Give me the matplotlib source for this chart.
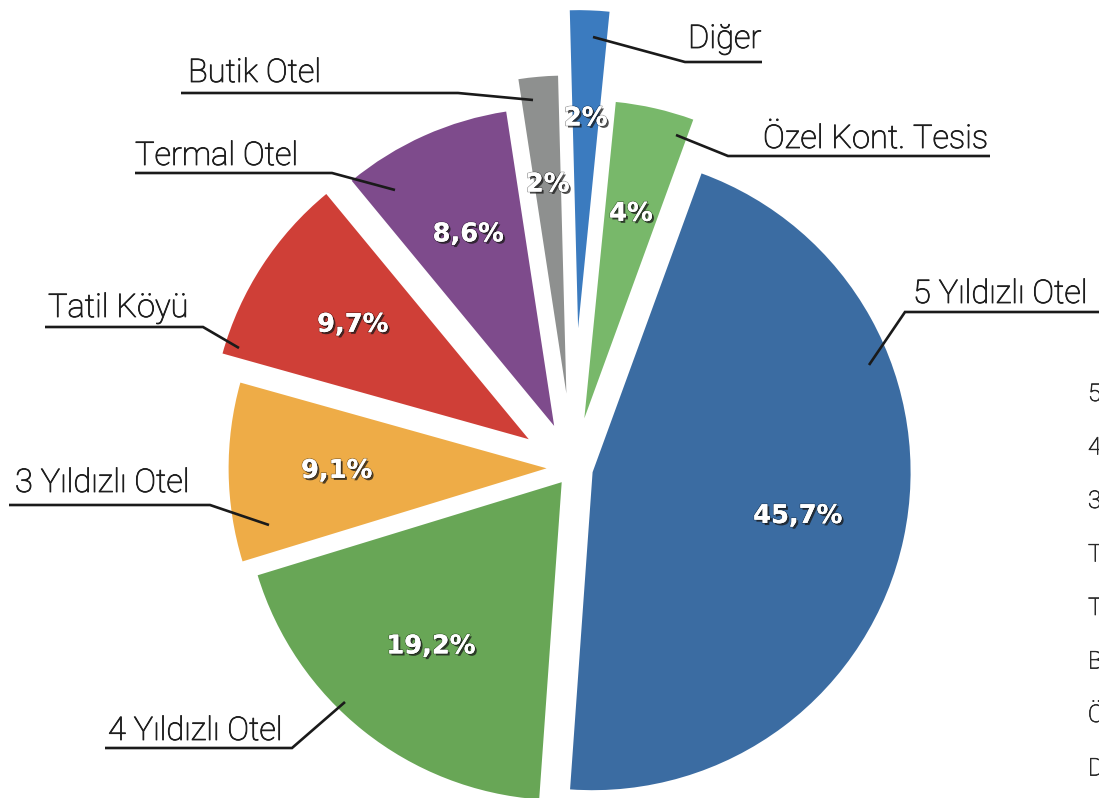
import matplotlib
matplotlib.use("Agg")
import matplotlib.pyplot as plt
import matplotlib.patheffects as pe

# ---------------- data (clockwise from top) ----------------
categories = ["Diğer", "Özel Kont. Tesis", "5 Yıldızlı Otel", "4 Yıldızlı Otel",
              "3 Yıldızlı Otel", "Tatil Köyü", "Termal Otel", "Butik Otel"]
values = [2, 4, 45.7, 19.2, 9.1, 9.7, 8.6, 2]
legend_order = ["5 Yıldızlı Otel", "4 Yıldızlı Otel", "3 Yıldızlı Otel", "Tatil Köyü",
                "Termal Otel", "Butik Otel", "Özel Kont. Tesis", "Diğer"]

# ---------------- style ----------------
colors = ["#3b7bbf", "#78b86a", "#3b6ca2", "#68a656",
          "#eeac47", "#cf3f37", "#7e4b8c", "#8e908f"]
explode_frac = [0.44, 0.16, 0.063, 0.057, 0.083, 0.166, 0.145, 0.235]

W, H = 1099, 798
R = 318
fig = plt.figure(figsize=(W / 100, H / 100), dpi=100)
ax = fig.add_axes([0, 0, 1, 1])


def P(x, y):
    return (x, H - y)


pct_labels = [("{:g}".format(v)).replace(".", ",") + "%" for v in values]
_it = iter(pct_labels)

wedges, texts, autotexts = ax.pie(
    values, colors=colors, explode=[e * R for e in explode_frac], startangle=91.5,
    counterclock=False, radius=R, center=P(573, 468), autopct=lambda p: next(_it),
    pctdistance=0.66, wedgeprops=dict(linewidth=0),
    textprops=dict(color="white", fontsize=18.5, fontweight="bold",
                   family=["DejaVu Sans"]))
for t in autotexts:
    t.set_path_effects([pe.SimplePatchShadow(offset=(1.5, -1.5), shadow_rgbFace="#1a1a1a", alpha=0.75),
                        pe.withStroke(linewidth=1.2, foreground=(0, 0, 0, 0.35)),
                        pe.Normal()])

ax.set_xlim(0, W)
ax.set_ylim(0, H)
ax.set_aspect("equal")
ax.axis("off")

# ---------------- callout labels (pixel layout) ----------------
# name: (text_x, baseline_y, underline_y, underline_far_x, knee_x, tip_x, tip_y)
layout = {
    "Diğer":            (688, 48, 62, 762, 685, 593, 37),
    "Özel Kont. Tesis": (763, 148, 156, 990, 728, 676, 135),
    "5 Yıldızlı Otel":  (913, 303, 312, 1105, 905, 869, 365),
    "Butik Otel":       (188, 82, 93, 181, 458, 533, 100),
    "Termal Otel":      (135, 165, 173, 135, 332, 395, 190),
    "Tatil Köyü":       (48, 317, 327, 45, 203, 239, 348),
    "3 Yıldızlı Otel":  (15, 492, 505, 9, 210, 269, 525),
    "4 Yıldızlı Otel":  (108, 740, 748, 105, 292, 345, 702),
}
txt_col = "#1e1e1e"
thicken = [pe.withStroke(linewidth=0.6, foreground=txt_col)]
lab_font = dict(family=["Roboto", "DejaVu Sans"], fontweight="light", fontsize=23.5, color=txt_col)
for name in categories:
    tx, by, uy, fx, kx, px_, py_ = layout[name]
    ax.text(*P(tx, by), name, ha="left", va="baseline", path_effects=thicken, **lab_font)
    xs = [fx, kx, px_]
    ys = [uy, uy, py_]
    ax.plot(xs, [H - y for y in ys], color="#1a1a1a", lw=1.9, solid_capstyle="butt",
            solid_joinstyle="miter", clip_on=False)

# ---------------- legend text (cut off at the right edge, as in the source) ----------------
leg_font = dict(family=["Roboto", "DejaVu Sans"], fontweight="light", fontsize=17.5, color="#2a2a2a")
for i, name in enumerate(legend_order):
    ax.text(*P(1088, 401 + i * 53.5), name, ha="left", va="baseline",
            path_effects=[pe.withStroke(linewidth=0.5, foreground="#2a2a2a")], **leg_font)

fig.savefig("out.png", dpi=100)
